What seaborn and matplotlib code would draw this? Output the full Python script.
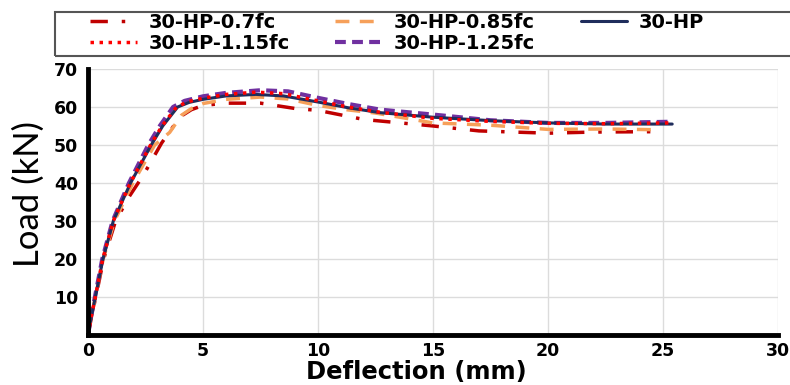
import numpy as np
import pandas as pd
import seaborn as sns
import matplotlib.pyplot as plt
from matplotlib.patches import Rectangle

# load-deflection curves
x_07 = [0, 0.16, 0.34, 0.68, 1.2, 1.8, 2.4, 3.2, 4.0, 4.5, 5, 6, 7.5, 9, 10, 12, 15, 17, 20, 22, 24.8]
y_07 = [0, 5, 10, 20, 30, 36.5, 42, 50.5, 57.4, 59.3, 60.4, 61, 61, 59.6, 59.1, 56.7, 55, 53.7, 53.1, 53.4, 53.5]

x_085 = [0, 0.15, 0.32, 0.66, 1.15, 1.95, 2.9, 3.55, 4.06, 4.5, 5, 6, 7.5, 8.7, 10, 11.2, 12.5, 15, 17.5, 20, 22.5, 24.9]
y_085 = [0, 5, 10, 20, 30, 40, 50, 53.3, 57.8, 59.6, 60.9, 62, 62.6, 62.1, 60.4, 59.3, 58.4, 55.8, 55.2, 54.1, 54.2, 54.0]

x_hp = [0, 0.15, 0.32, 0.65, 1.1, 1.85, 2.75, 3.25, 3.9, 4.4, 5, 6, 7.3, 8.5, 10, 11.3, 12.7, 15, 17.5, 20, 22.5, 25.4]
y_hp = [0, 5, 10, 20, 30, 40, 50, 55, 60, 61.2, 62, 62.9, 63.3, 62.9, 61.3, 59.8, 58.5, 57.3, 56.4, 55.8, 55.5, 55.5]

x_115 = [0, 0.15, 0.32, 0.64, 1.1, 1.84, 2.72, 3.22, 3.85, 4.35, 5, 6, 7.3, 8.5, 10, 11.3, 12.7, 15, 17.5, 20, 22.5, 25.3]
y_115 = [0, 5, 10, 20, 30, 40, 50, 55, 60, 61.4, 62.3, 63.3, 63.9, 63.5, 61.6, 60.0, 58.6, 57.0, 56.2, 55.7, 55.6, 55.8]

x_125 = [0, 0.14, 0.3, 0.62, 1.07, 1.78, 2.62, 3.12, 3.7, 4.2, 5, 6, 7.5, 8.7, 10, 11.3, 12.7, 15, 17.5, 20, 22.5, 25.3]
y_125 = [0, 5, 10, 20, 30, 40, 50, 55, 60, 61.6, 62.8, 63.7, 64.4, 64.1, 62.4, 60.8, 59.3, 58.0, 56.5, 55.8, 55.8, 56.1]

names = ["30-HP-0.7fc", "30-HP-0.85fc", "30-HP-1.25fc", "30-HP", "30-HP-1.15fc"]
xs = [x_07, x_085, x_125, x_hp, x_115]
ys = [y_07, y_085, y_125, y_hp, y_115]

colors = {"30-HP-0.7fc": "#c00000", "30-HP-0.85fc": "#f6a05a", "30-HP": "#1f2d5c",
          "30-HP-1.15fc": "#ff0000", "30-HP-1.25fc": "#7030a0"}
dashes = {"30-HP-0.7fc": (5, 4, 1, 4), "30-HP-0.85fc": (4, 3), "30-HP": None,
          "30-HP-1.15fc": (1, 1.6), "30-HP-1.25fc": (2.6, 1.5)}
widths = {"30-HP-0.7fc": 2.5, "30-HP-0.85fc": 2.5, "30-HP": 2.2,
          "30-HP-1.15fc": 2.5, "30-HP-1.25fc": 3.0}

frames = []
for n, x, y in zip(names, xs, ys):
    frames.append(pd.DataFrame(dict(Deflection=x, Load=y, Specimen=n)))
df = pd.concat(frames).reset_index(drop=True)

sns.set_theme(style="white")
plt.rcParams['font.family'] = ['DejaVu Sans']
plt.rcParams['text.color'] = 'black'
plt.rcParams['axes.labelcolor'] = 'black'
plt.rcParams['xtick.color'] = 'black'
plt.rcParams['ytick.color'] = 'black'

fig = plt.figure(figsize=(7.9, 3.85), dpi=100)
ax = fig.add_axes([0.1114, 0.1299, 0.8734, 0.691])

for n in names:
    sub = df[df.Specimen == n]
    sns.lineplot(data=sub, x="Deflection", y="Load", ax=ax, sort=False,
                 estimator=None, color=colors[n], lw=widths[n], label=n)
    line = ax.lines[-1]
    if dashes[n] is not None:
        line.set_dashes(dashes[n])

ax.set_xlim(0, 30)
ax.set_ylim(0, 70)
ax.set_xticks(range(0, 31, 5))
ax.set_yticks(range(10, 71, 10))
ax.grid(True, color="#dcdcdc", lw=1)
ax.tick_params(length=0, labelsize=12.5, pad=7)
ax.tick_params(axis="x", pad=5)
for lab in ax.get_xticklabels() + ax.get_yticklabels():
    lab.set_fontweight("bold")

for s in ["top", "right"]:
    ax.spines[s].set_visible(False)
for s in ["left", "bottom"]:
    ax.spines[s].set_color("black")
    ax.spines[s].set_linewidth(3.5)

ax.set_xlabel("Deflection (mm)", fontsize=17.5, fontweight="bold")
ax.xaxis.label.set_va("bottom")
ax.xaxis.set_label_coords(0.475, 1 / 385, transform=fig.transFigure)
ax.xaxis.label.set_x(416 / 790)
ax.set_ylabel("Load (kN)", fontsize=25, family="Lato", va="center")
ax.yaxis.set_label_coords(-0.0855, 0.53)

# legend, row-major order as in the original
handles, labels = ax.get_legend_handles_labels()
ax.get_legend().remove()
order = ["30-HP-0.7fc", "30-HP-1.15fc", "30-HP-0.85fc", "30-HP-1.25fc", "30-HP"]
hmap = dict(zip(labels, handles))
fig.legend([hmap[k] for k in order], order, ncol=3, loc="upper left",
           bbox_to_anchor=(90 / 790, 1 - 13 / 385), frameon=False,
           prop=dict(weight="bold", size=14), handlelength=2.4,
           handletextpad=0.6, columnspacing=2.35, labelspacing=0.1,
           borderpad=0, borderaxespad=0)
fig.patches.append(Rectangle((55 / 790, 1 - 56 / 385), 1.0, 44 / 385,
                             transform=fig.transFigure, fill=False,
                             edgecolor="#555555", lw=1.5, clip_on=False))

plt.savefig("out.png", dpi=100)
